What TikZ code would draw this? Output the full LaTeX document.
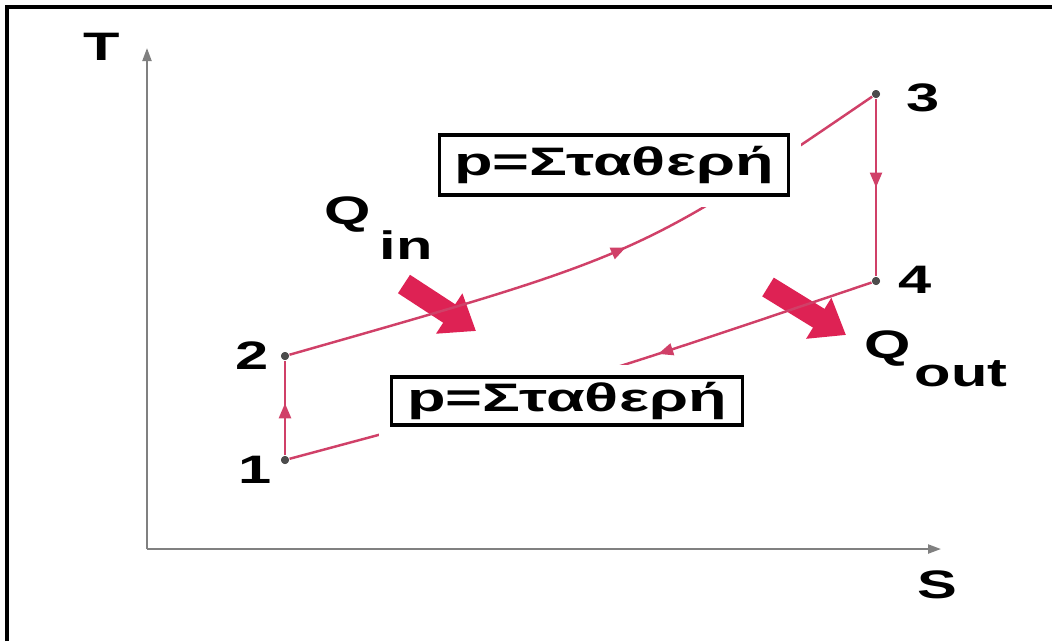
\documentclass[tikz,border=0pt]{standalone}
\usepackage{fontspec}
\setmainfont{Liberation Sans}
\usetikzlibrary{arrows.meta, decorations.markings}
\definecolor{cycleR}{RGB}{208, 64, 104}
\definecolor{heatR}{RGB}{222, 34, 84}
\definecolor{axisG}{RGB}{128, 128, 128}
\newcommand{\wide}[1]{\scalebox{1.5}[1]{#1}}

\begin{document}
\begin{tikzpicture}[
    x=0.01cm, y=-0.01cm,
    axis/.style={draw=axisG, line width=0.6pt, -{Triangle[length=0.13cm, width=0.09cm]}},
    pt/.style={circle, fill=black!70, inner sep=0pt, minimum size=0.08cm},
    lbl/.style={inner sep=1pt, font=\fontsize{11.3}{13}\selectfont\bfseries},
    isobox/.style={draw=black, line width=1pt, fill=white, inner sep=0pt, preaction={draw=white, line width=0.24cm}, font=\fontsize{11.3}{13}\selectfont\bfseries},
    cycleline/.style={draw=cycleR, line width=0.7pt},
    midarrow/.style={postaction={decorate}, decoration={markings, mark=at position #1 with {\arrow[color=cycleR]{Triangle[length=0.15cm, width=0.12cm]}}}},
    heat/.style={draw=heatR, line width=0.22cm, -{Triangle[length=0.32cm, width=0.46cm]}}
]
\useasboundingbox (0,0) rectangle (1052,641);

% frame
\coordinate (fTL) at (7,7);
\draw[line width=0.9pt] (7,641) -- (fTL) -- (1052,7);

% axes
\coordinate (O) at (147,549);
\coordinate (Ttip) at (147,48);
\coordinate (Stip) at (941,549);
\draw[axis] (O) -- (Ttip);
\draw[axis] (O) -- (Stip);
\node[lbl] (Tlab) at (102,47) {\wide{T}};
\node[lbl] (Slab) at (937,585) {\wide{S}};

% heat arrows
\coordinate (qinT) at (404,284);
\coordinate (qinH) at (476,331);
\coordinate (qoutT) at (768,287);
\coordinate (qoutH) at (846,335);
\draw[heat] (qinT) -- (qinH);
\draw[heat] (qoutT) -- (qoutH);

% states
\node[pt] (p1) at (285,460) {};
\node[pt] (p2) at (285,356) {};
\node[pt] (p3) at (876,94) {};
\node[pt] (p4) at (876,281) {};

% cycle
\draw[cycleline, midarrow=0.55] (p1) -- (p2);
\draw[cycleline, midarrow=0.55] (p2) .. controls (640,255) .. (p3);
\draw[cycleline, midarrow=0.5] (p3) -- (p4);
\draw[cycleline, midarrow=0.37] (p4) .. controls (580,381) .. (p1);

% isobar labels
\node[isobox, minimum width=3.49cm, minimum height=0.6cm] (boxhi) at (614,165) {\resizebox{3.19cm}{\height}{p=Σταθερή}};
\node[isobox, minimum width=3.51cm, minimum height=0.48cm] (boxlo) at (567,401) {\resizebox{3.19cm}{\height}{p=Σταθερή}};

% redraw points on top
\node[pt] at (p1) {};
\node[pt] at (p2) {};
\node[pt] at (p3) {};
\node[pt] at (p4) {};

% labels
\node[lbl] (l1) at (255,470) {\wide{1}};
\node[lbl] (l2) at (252,356) {\wide{2}};
\node[lbl] (l3) at (923,98) {\wide{3}};
\node[lbl] (l4) at (915,280) {\wide{4}};
\node[lbl] (qin) at (348,215) {\wide{Q}};
\node[lbl] (qinsub) at (406,245) {\wide{in}};
\node[lbl] (qout) at (888,349) {\wide{Q}};
\node[lbl] (qoutsub) at (961,374) {\wide{out}};
\end{tikzpicture}
\end{document}
